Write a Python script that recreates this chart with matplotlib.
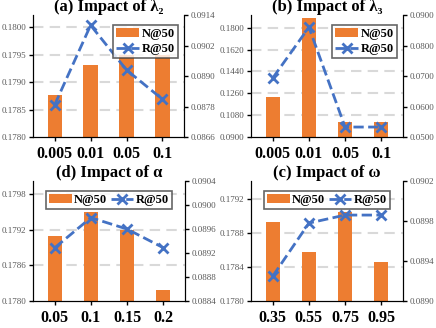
import numpy as np
import matplotlib
matplotlib.use('Agg')
import matplotlib.pyplot as plt

plt.rcParams['font.family'] = ['Liberation Serif', 'DejaVu Serif']

# category labels
lam2_x = ['0.005', '0.01', '0.05', '0.1']
lam3_x = ['0.005', '0.01', '0.05', '0.1']
alpha_x = ['0.05', '0.1', '0.15', '0.2']
omega_x = ['0.35', '0.55', '0.75', '0.95']

# N@50 (bars, left axis) and R@50 (line, right axis)
lam2_n = [0.17876, 0.17932, 0.17950, 0.17950]
lam2_r = [0.08787, 0.09100, 0.08924, 0.08809]
lam3_n = [0.1227, 0.1882, 0.1028, 0.1028]
lam3_r = [0.0694, 0.0860, 0.0533, 0.0533]
alpha_n = [0.17909, 0.17950, 0.17920, 0.17819]
alpha_r = [0.08929, 0.08979, 0.08960, 0.08929]
omega_n = [0.17893, 0.17858, 0.17905, 0.17846]
omega_r = [0.08925, 0.08978, 0.08986, 0.08986]

ORANGE = '#ED7D31'
BLUE = '#4472C4'
GREY = '#595959'


def panel(rect, title, labels, nvals, rvals, lticks, lylim, rticks, rylim, one_row):
    ax = fig.add_axes(rect)
    x = np.arange(len(labels))
    ax.set_axisbelow(True)
    for t in lticks[1:]:
        ax.axhline(t, color='#D9D9D9', linestyle=(0, (5, 3)), linewidth=1.5, zorder=0)
    bars = ax.bar(x, nvals, width=0.4, color=ORANGE, label='N@50', zorder=2)
    ax.set_ylim(*lylim)
    ax.set_yticks(lticks)
    ax.set_yticklabels(['%.4f' % t for t in lticks], fontsize=6.5, color=GREY)
    ax.set_xlim(-0.6, len(labels) - 0.4)
    ax.set_xticks(x)
    ax.set_xticklabels(labels, fontsize=11.5, fontweight='bold')
    ax.spines['top'].set_visible(False)
    ax.tick_params(axis='x', length=3, width=1, pad=3.5)
    ax.tick_params(axis='y', length=3, width=1, pad=2)
    ax.set_title(title, fontsize=12, fontweight='bold', pad=1)

    ax2 = ax.twinx()
    line, = ax2.plot(x, rvals, color=BLUE, linestyle='--', linewidth=2, marker='x',
                     markersize=7, markeredgewidth=2, label='R@50', zorder=3)
    ax2.set_ylim(*rylim)
    ax2.set_yticks(rticks)
    ax2.set_yticklabels(['%.4f' % t for t in rticks], fontsize=6.5, color=GREY)
    ax2.spines['top'].set_visible(False)
    ax2.tick_params(axis='y', length=3, width=1, pad=2)

    if one_row:
        leg = ax2.legend([bars, line], ['N@50', 'R@50'], loc='upper center', ncol=2,
                         bbox_to_anchor=(0.5, 0.97), fancybox=False,
                         handlelength=1.8, handletextpad=0.2, columnspacing=0.3,
                         borderpad=0.25, prop={'weight': 'bold', 'size': 9})
    else:
        leg = ax2.legend([bars, line], ['N@50', 'R@50'], loc='upper right',
                         bbox_to_anchor=(1.0, 0.97), fancybox=False,
                         handlelength=1.8, handletextpad=0.2, borderpad=0.25,
                         labelspacing=0.25, prop={'weight': 'bold', 'size': 9})
    leg.get_frame().set_edgecolor('#404040')
    leg.get_frame().set_linewidth(1.2)
    return ax


fig = plt.figure(figsize=(4.36, 3.28), dpi=100)

panel([0.076, 0.582, 0.346, 0.372], '(a) Impact of λ\u2082', lam2_x, lam2_n, lam2_r,
      [0.1780, 0.1785, 0.1790, 0.1795, 0.1800], (0.1780, 0.18022),
      [0.0866, 0.0878, 0.0890, 0.0902, 0.0914], (0.0866, 0.0914), False)
panel([0.576, 0.582, 0.348, 0.372], '(b) Impact of λ\u2083', lam3_x, lam3_n, lam3_r,
      [0.0900, 0.1080, 0.1260, 0.1440, 0.1620, 0.1800], (0.0900, 0.1904),
      [0.0500, 0.0600, 0.0700, 0.0800, 0.0900], (0.0500, 0.0900), False)
panel([0.076, 0.082, 0.348, 0.366], '(d) Impact of α', alpha_x, alpha_n, alpha_r,
      [0.1780, 0.1786, 0.1792, 0.1798], (0.1780, 0.18002),
      [0.0884, 0.0888, 0.0892, 0.0896, 0.0900, 0.0904], (0.0884, 0.0904), True)
panel([0.576, 0.082, 0.348, 0.366], '(c) Impact of ω', omega_x, omega_n, omega_r,
      [0.1780, 0.1784, 0.1788, 0.1792], (0.1780, 0.17941),
      [0.0890, 0.0894, 0.0898, 0.0902], (0.0890, 0.0902), True)

fig.savefig('out.png', dpi=100)
